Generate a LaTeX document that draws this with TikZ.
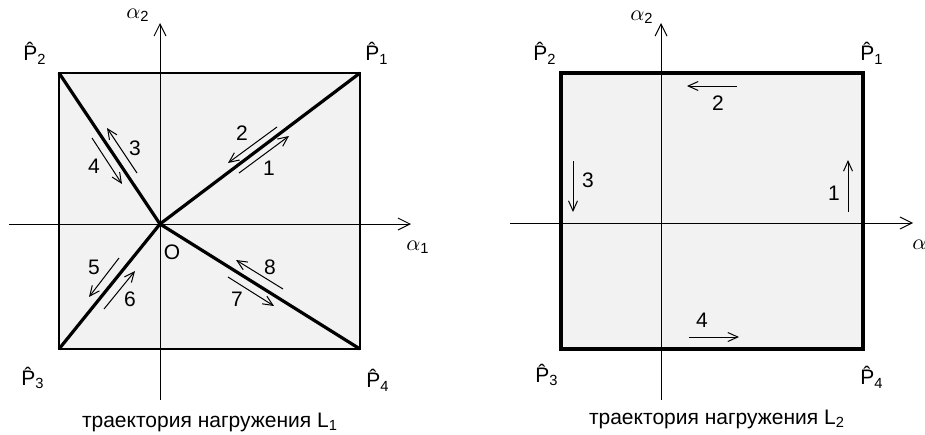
\documentclass[tikz,border=0pt]{standalone}
\usepackage{fontspec}
\setmainfont{Liberation Sans}
\usepackage{tikz}
\usetikzlibrary{arrows.meta, calc}
\definecolor{fonGris}{RGB}{242, 242, 242}
\definecolor{noirTrait}{RGB}{0, 0, 0}

\begin{document}
\begin{tikzpicture}[x=0.5pt, y=-0.5pt,
  axe/.style={line width=0.5pt, draw=noirTrait,
    -{Straight Barb[length=6pt, width=6pt]}},
  traj/.style={line width=1.6pt, draw=noirTrait, line join=miter},
  pas/.style={line width=0.5pt, draw=noirTrait,
    -{Straight Barb[length=5pt, width=4.5pt]}},
  lbl/.style={font=\fontsize{10.5}{12}\selectfont, inner sep=0pt},
]
\useasboundingbox (0,0) rectangle (925,434);

% --- trajectory L1 ---
\coordinate (P1a) at (360,73);
\coordinate (P2a) at (59,73);
\coordinate (P3a) at (59,349);
\coordinate (P4a) at (360,349);
\coordinate (Oa)  at (160,224);
\coordinate (xa0) at (9,224);
\coordinate (xa1) at (411,224);
\coordinate (ya0) at (160,400);
\coordinate (ya1) at (160,23);

\fill[fonGris] (P2a) rectangle (P4a);
\draw[axe] (xa0) -- (xa1);
\draw[axe] (ya0) -- (ya1);
\draw[line width=0.7pt] (P1a) -- (P2a) -- (P3a) -- (P4a) -- cycle;
\draw[traj] (P1a) -- (Oa) -- (P2a);
\draw[traj] (P3a) -- (Oa) -- (P4a);

\draw[pas] (239,173) -- (289,136);
\draw[pas] (277,127) -- (228,163);
\draw[pas] (137,173) -- (107,128);
\draw[pas] (92,138)  -- (122,184);
\draw[pas] (119,258) -- (89,297);
\draw[pas] (104,309) -- (135,271);
\draw[pas] (228,277) -- (274,306);
\draw[pas] (283,289) -- (236,260);

\node[lbl] (n1a) at (269,168) {1};
\node[lbl] (n2a) at (242,133) {2};
\node[lbl] (n3a) at (135,148) {3};
\node[lbl] (n4a) at (94,166)  {4};
\node[lbl] (n5a) at (94,267)  {5};
\node[lbl] (n6a) at (130,299) {6};
\node[lbl] (n7a) at (237,299) {7};
\node[lbl] (n8a) at (270,267) {8};
\node[lbl] (Oalbl) at (172,252) {O};

\node[lbl] (lp1a) at (377,53)  {\^{P}\textsubscript{1}};
\node[lbl] (lp2a) at (35,53)   {\^{P}\textsubscript{2}};
\node[lbl] (lp3a) at (33,378)  {\^{P}\textsubscript{3}};
\node[lbl] (lp4a) at (378,380) {\^{P}\textsubscript{4}};
\node[lbl] (al1a) at (418,247) {$\alpha$\textsubscript{1}};
\node[lbl] (al2a) at (138,15)  {$\alpha$\textsubscript{2}};
\node[lbl] (capa) at (210,422) {траектория нагружения L\textsubscript{1}};

% --- trajectory L2 ---
\coordinate (P1b) at (863,73);
\coordinate (P2b) at (561,73);
\coordinate (P3b) at (561,349);
\coordinate (P4b) at (863,349);
\coordinate (xb0) at (510,223);
\coordinate (xb1) at (913,223);
\coordinate (yb0) at (661,400);
\coordinate (yb1) at (661,23);

\fill[fonGris] (P2b) rectangle (P4b);
\draw[axe] (xb0) -- (xb1);
\draw[axe] (yb0) -- (yb1);
\draw[traj] (P1b) -- (P2b) -- (P3b) -- (P4b) -- cycle;

\draw[pas] (848,212) -- (848,160);
\draw[pas] (737,86)  -- (687,86);
\draw[pas] (573,161) -- (573,212);
\draw[pas] (689,337) -- (739,337);

\node[lbl] (n1b) at (834,193) {1};
\node[lbl] (n2b) at (718,103) {2};
\node[lbl] (n3b) at (588,180) {3};
\node[lbl] (n4b) at (702,320) {4};

\node[lbl] (lp1b) at (872,53)  {\^{P}\textsubscript{1}};
\node[lbl] (lp2b) at (545,53)  {\^{P}\textsubscript{2}};
\node[lbl] (lp3b) at (547,375) {\^{P}\textsubscript{3}};
\node[lbl] (lp4b) at (872,377) {\^{P}\textsubscript{4}};
\node[lbl, anchor=west] (al1b) at (912,245) {$\alpha$};
\node[lbl] (al2b) at (642,17)  {$\alpha$\textsubscript{2}};
\node[lbl] (capb) at (717,419) {траектория нагружения L\textsubscript{2}};
\end{tikzpicture}
\end{document}
